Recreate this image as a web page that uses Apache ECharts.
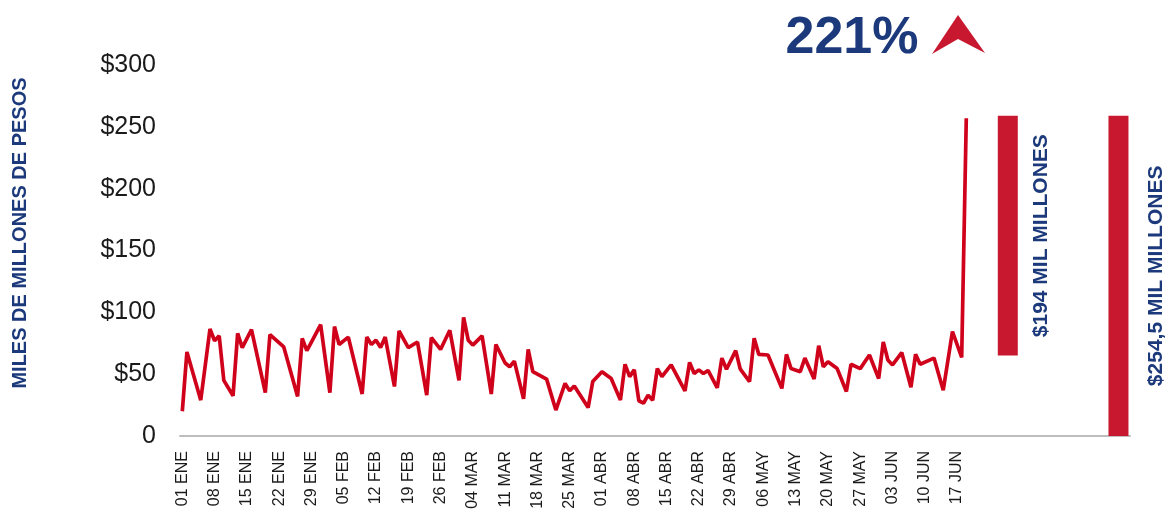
<!DOCTYPE html>
<html>
<head>
<meta charset="utf-8">
<script src="https://cdn.jsdelivr.net/npm/echarts@6/dist/echarts.min.js"></script>
<style>
html,body{margin:0;padding:0;background:#fff;}
#chart{width:1167px;height:512px;}
</style>
</head>
<body>
<div id="chart"></div>
<script>
// Days counted from 01 ENE 2020 (0 = 01 ENE)
const monthNames = ['ENE','FEB','MAR','ABR','MAY','JUN','JUL'];
const monthLengths = [31, 29, 31, 30, 31, 30, 31];
const axisDays = 206;          // 01 ENE .. 24 JUL
const lastLabelDay = 168;      // 17 JUN
const labelEvery = 7;

const dayIndex = [
  0,1,4,6,7,8,9,11,12,13,15,18,19,22,25,26,27,28,30,
  32,33,34,36,39,40,41,42,43,44,46,47,49,51,53,54,56,58,
  60,61,62,63,65,67,68,70,71,72,74,75,76,79,81,83,84,85,88,89,
  91,93,95,96,97,98,99,100,101,102,103,104,106,109,110,111,112,113,114,116,117,118,120,
  121,123,124,125,127,130,131,132,134,135,137,138,139,140,142,144,145,147,149,151,
  152,153,154,156,158,159,160,163,165,167,169,170
];
const amount = [
  20,68,29,86.5,77,81,45,32.5,83,71.5,86,35,82,72,32,79,69,76,90,
  35,88.5,74,80,34,80,74,77.5,71.5,80,40,85,71.5,76,33,79.5,70,85.5,
  45,96,77.5,73.5,81,34,74,59,56,60.5,30,70,52,46,21,42.5,36.5,40.5,23,44,
  52,46.5,29,58,48,53.5,28.5,26.5,33,29,54.5,48,57.5,36.5,59.5,50.5,53.5,50.5,53,39,63,54,69,
  54,44,79,66,65.5,38.5,66,54.5,52,63,46,73,56,60,54.5,36,58,54.5,65.5,46.5,
  76,61.5,57.5,67.5,39.5,66,58,63,37,84.5,63.5,257
];

// Summary bars
const barDay = [179, 203];
const barBase = [65, 0];
const barHeight = [194, 259];
const barLabels = ['$194 MIL MILLONES', '$254,5 MIL MILLONES'];

const yTicks = [0, 50, 100, 150, 200, 250, 300];
const yTitle = 'MILES DE MILLONES DE PESOS';
const headline = '221%';

// Build category labels
const categories = [];
for (let m = 0; m < monthLengths.length && categories.length < axisDays; m++) {
  for (let d = 1; d <= monthLengths[m] && categories.length < axisDays; d++) {
    categories.push(String(d).padStart(2, '0') + ' ' + monthNames[m]);
  }
}
const lineData = new Array(axisDays).fill(null);
dayIndex.forEach((d, i) => { lineData[d] = amount[i]; });

const NAVY = '#1c3a7b';
const RED_LINE = '#d0021b';
const RED_BAR = '#c8182f';
const FONT = "'Liberation Sans', Arial, sans-serif";

const chart = echarts.init(document.getElementById('chart'), null, {renderer: 'canvas'});
chart.setOption({
  animation: false,
  backgroundColor: '#ffffff',
  grid: {left: 180, right: 37, top: 65, bottom: 76, containLabel: false},
  xAxis: {
    type: 'category',
    data: categories,
    boundaryGap: true,
    axisLine: {show: true, lineStyle: {color: '#bdbdbd', width: 2}},
    axisTick: {show: false},
    axisLabel: {
      rotate: 90,
      margin: 15,
      fontSize: 16,
      fontFamily: FONT,
      color: '#1a1a1a',
      interval: (idx) => idx % labelEvery === 0 && idx <= lastLabelDay
    },
    splitLine: {show: false}
  },
  yAxis: {
    type: 'value',
    min: yTicks[0],
    max: yTicks[yTicks.length - 1],
    interval: yTicks[1] - yTicks[0],
    axisLine: {show: false},
    axisTick: {show: false},
    splitLine: {show: false},
    axisLabel: {
      margin: 24,
      fontSize: 25,
      fontFamily: FONT,
      color: '#1a1a1a',
      formatter: (v) => v === 0 ? '0' : '$' + v
    }
  },
  series: [
    {
      type: 'line',
      data: lineData,
      connectNulls: true,
      showSymbol: false,
      symbol: 'none',
      lineStyle: {color: RED_LINE, width: 3.7},
      z: 3
    },
    {
      type: 'bar',
      stack: 'total',
      barWidth: 20,
      data: barDay.map((d, i) => [d, barBase[i]]),
      itemStyle: {color: 'transparent'},
      silent: true
    },
    {
      type: 'bar',
      stack: 'total',
      barWidth: 20,
      data: barDay.map((d, i) => ({
        value: [d, barHeight[i]],
        label: {distance: i === 0 ? 23 : 28}
      })),
      itemStyle: {color: RED_BAR},
      label: {
        show: true,
        position: 'right',
        rotate: 90,
        align: 'center',
        verticalAlign: 'middle',
        fontFamily: FONT,
        fontWeight: 'bold',
        fontSize: 21,
        color: NAVY,
        formatter: (p) => barLabels[p.dataIndex]
      }
    }
  ],
  graphic: [
    {
      type: 'text',
      x: 20, y: 233,
      rotation: Math.PI / 2,
      style: {
        text: yTitle,
        fill: NAVY,
        font: 'bold 20px ' + FONT,
        align: 'center',
        verticalAlign: 'middle'
      }
    },
    {
      type: 'text',
      x: 852, y: 39,
      style: {
        text: headline,
        fill: NAVY,
        font: 'bold 52px ' + FONT,
        align: 'center',
        verticalAlign: 'middle'
      }
    },
    {
      type: 'polygon',
      shape: {points: [[958, 15], [985, 53], [958, 39], [932, 54]]},
      style: {fill: RED_BAR}
    }
  ]
});
</script>
</body>
</html>
